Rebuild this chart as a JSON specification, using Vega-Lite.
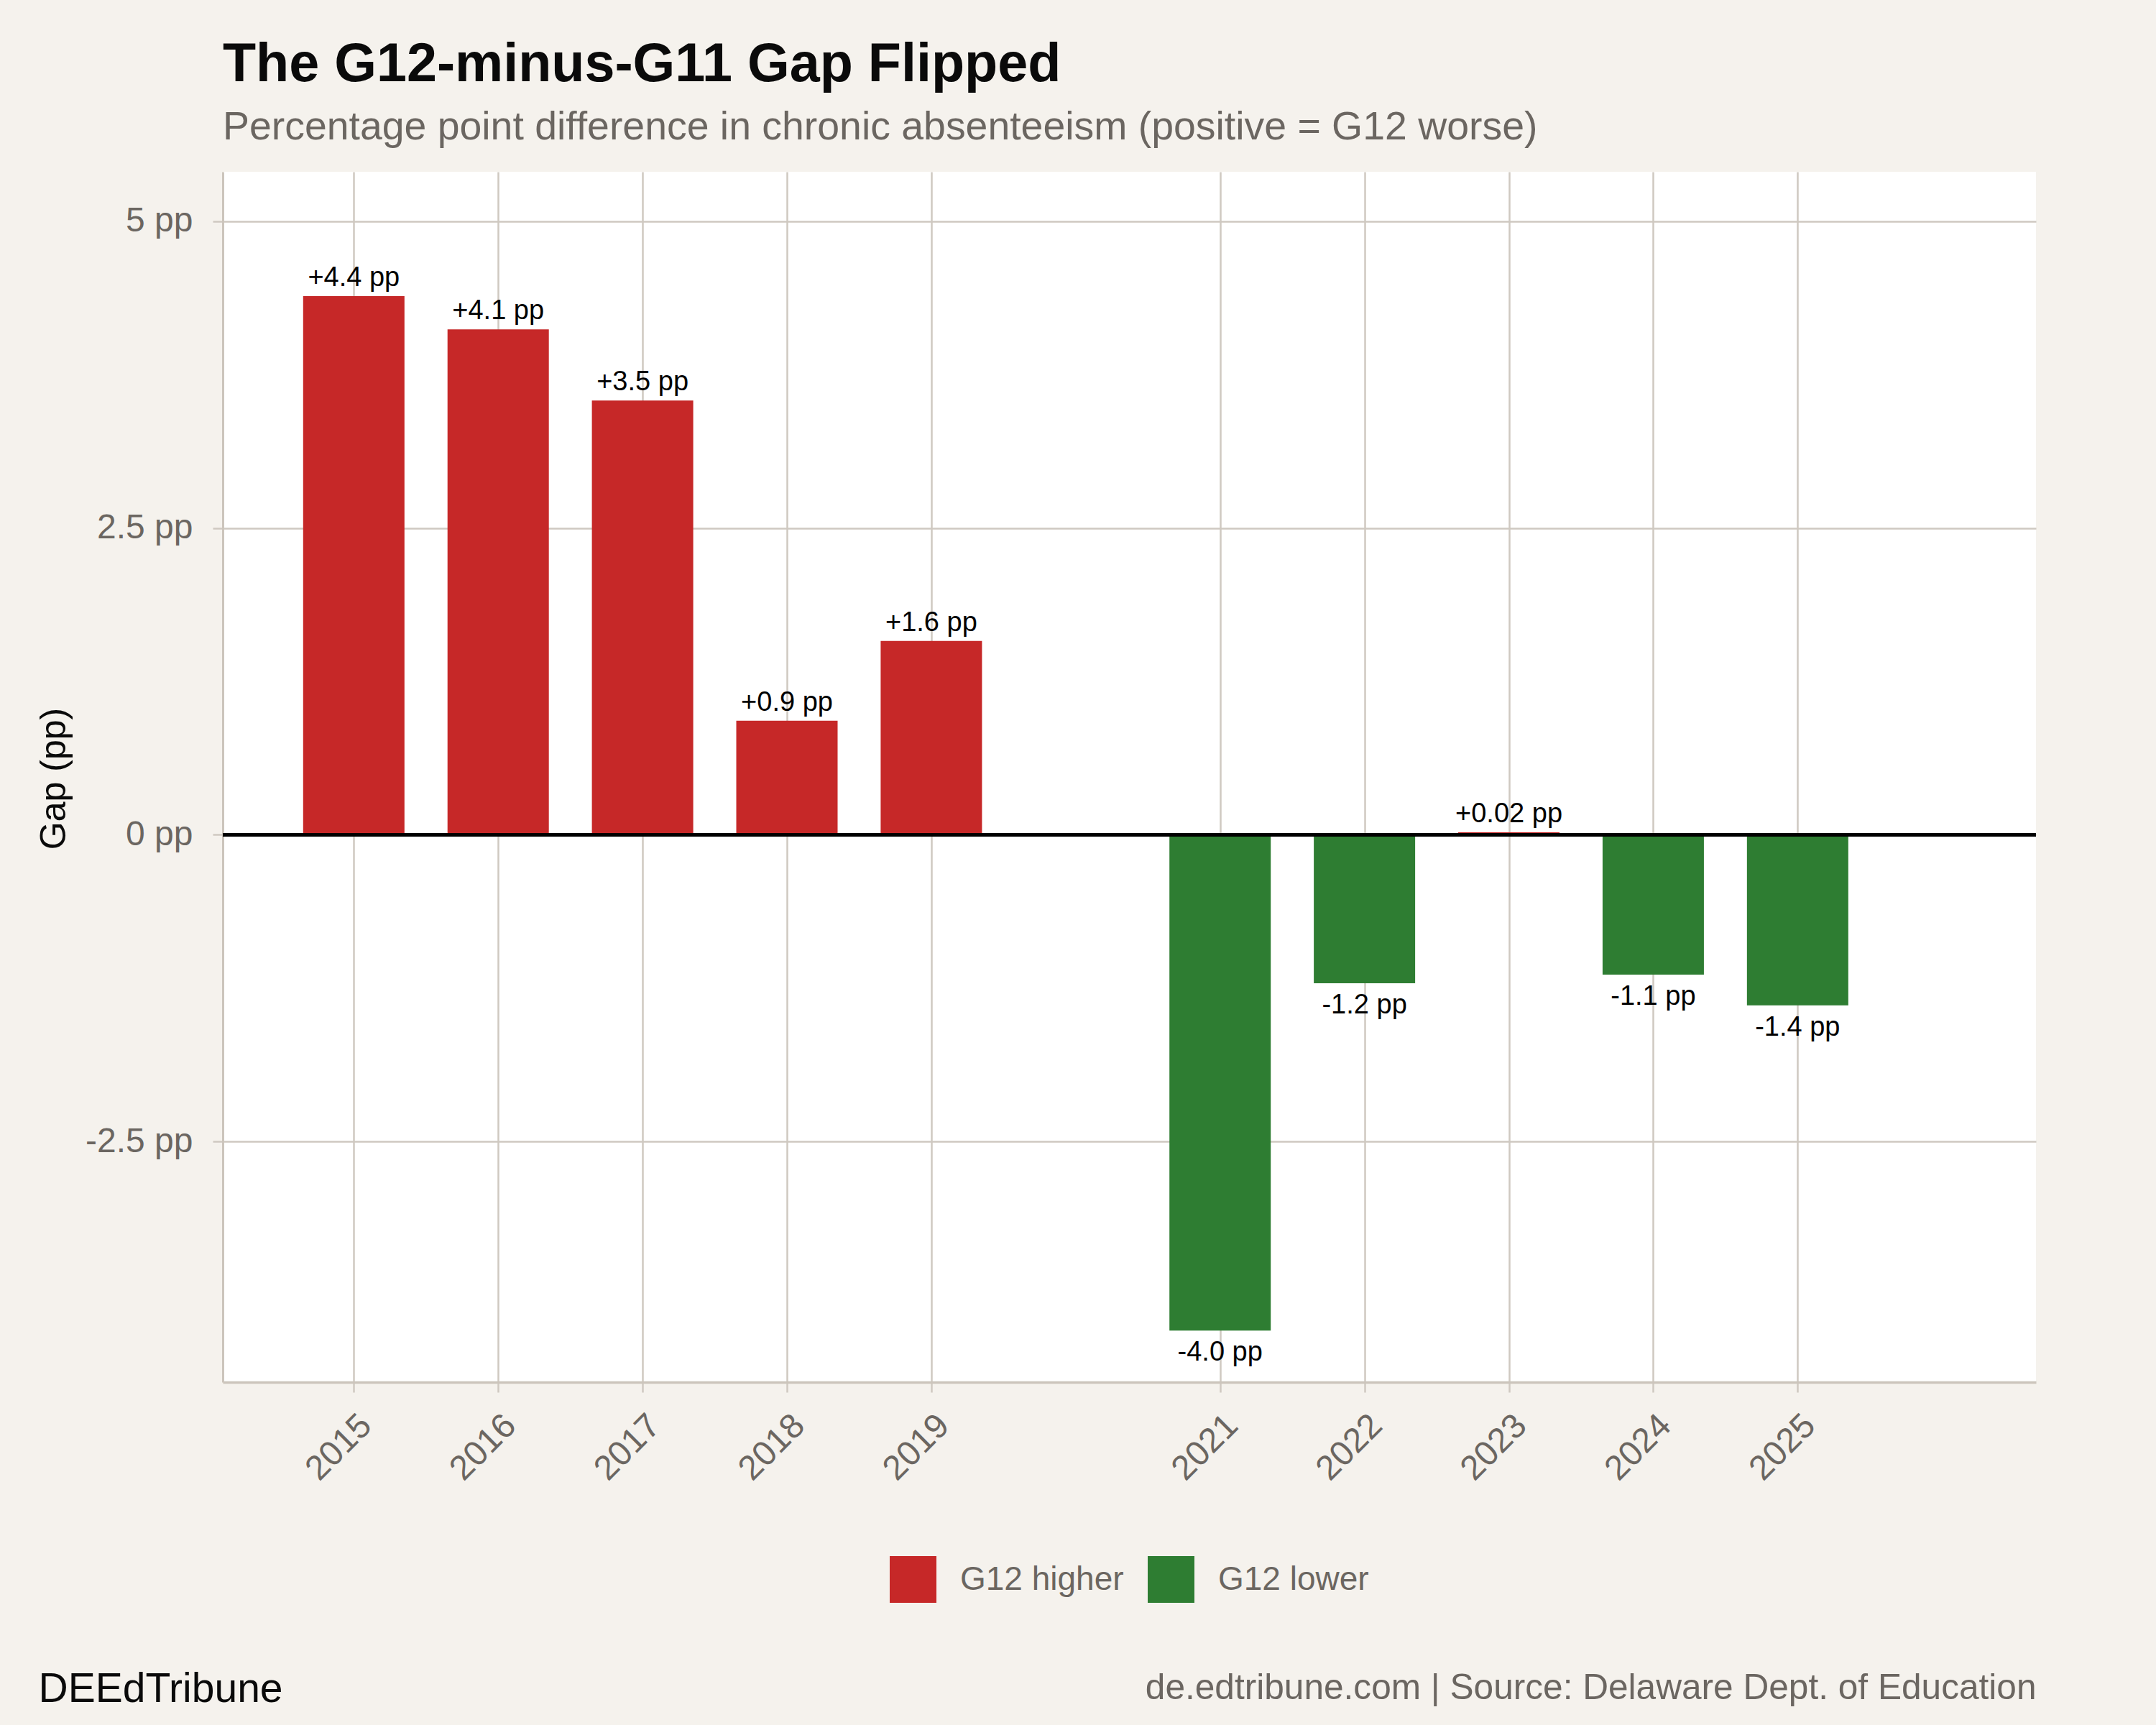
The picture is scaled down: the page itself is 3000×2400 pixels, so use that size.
{
  "$schema": "https://vega.github.io/schema/vega-lite/v6.json",
  "autosize": {"type": "none"},
  "padding": {"left": 310, "top": 239, "right": 167, "bottom": 477},
  "width": 2523,
  "height": 1684,
  "background": "#F5F2ED",
  "config": {
    "font": "Liberation Sans",
    "view": {"fill": "white", "stroke": null}
  },
  "title": {
    "text": "The G12-minus-G11 Gap Flipped",
    "subtitle": "Percentage point difference in chronic absenteeism (positive = G12 worse)",
    "anchor": "start",
    "frame": "group",
    "fontSize": 75.5,
    "fontWeight": "bold",
    "color": "#0A0A0A",
    "subtitleFontSize": 55.4,
    "subtitleColor": "#6B6661",
    "subtitlePadding": 21,
    "offset": 34
  },
  "data": {
    "values": [
      {"year": 2015, "gap": 4.39, "label": "+4.4 pp", "direction": "G12 higher"},
      {"year": 2016, "gap": 4.12, "label": "+4.1 pp", "direction": "G12 higher"},
      {"year": 2017, "gap": 3.54, "label": "+3.5 pp", "direction": "G12 higher"},
      {"year": 2018, "gap": 0.93, "label": "+0.9 pp", "direction": "G12 higher"},
      {"year": 2019, "gap": 1.58, "label": "+1.6 pp", "direction": "G12 higher"},
      {"year": 2021, "gap": -4.04, "label": "-4.0 pp", "direction": "G12 lower"},
      {"year": 2022, "gap": -1.21, "label": "-1.2 pp", "direction": "G12 lower"},
      {"year": 2023, "gap": 0.02, "label": "+0.02 pp", "direction": "G12 higher"},
      {"year": 2024, "gap": -1.14, "label": "-1.1 pp", "direction": "G12 lower"},
      {"year": 2025, "gap": -1.39, "label": "-1.4 pp", "direction": "G12 lower"}
    ]
  },
  "resolve": {"scale": {"y": "independent"}},
  "layer": [
    {
      "encoding": {
        "x": {
          "field": "year",
          "type": "quantitative",
          "scale": {"domain": [2014.1175, 2026.626], "nice": false, "zero": false},
          "axis": {
            "values": [2015, 2016, 2017, 2018, 2019, 2021, 2022, 2023, 2024, 2025],
            "format": "d",
            "labelAngle": -45,
            "labelFontSize": 48,
            "labelColor": "#6B6661",
            "labelPadding": 22,
            "labelFlush": false,
            "labelOverlap": false,
            "grid": true,
            "gridColor": "#CFC9C1",
            "gridWidth": 2.5,
            "tickColor": "#CFC9C1",
            "tickSize": 14,
            "tickWidth": 2.5,
            "domainColor": "#CCC5BC",
            "domainWidth": 3.5,
            "title": "de.edtribune.com | Source: Delaware Dept. of Education",
            "titleFontSize": 49.6,
            "titleFontWeight": "normal",
            "titleColor": "#6B6661",
            "titleX": 2523,
            "titleY": 440,
            "titleAngle": 0,
            "titleAlign": "right",
            "titleBaseline": "alphabetic"
          }
        },
        "y": {
          "field": "gap",
          "type": "quantitative",
          "scale": {"domain": [-4.461, 5.404], "nice": false, "zero": false},
          "axis": {
            "values": [-2.5, 0, 2.5, 5],
            "labelExpr": "datum.value + ' pp'",
            "labelFontSize": 48,
            "labelColor": "#6B6661",
            "labelPadding": 28,
            "labelOverlap": false,
            "grid": true,
            "gridColor": "#CFC9C1",
            "gridWidth": 2.5,
            "tickColor": "#CFC9C1",
            "tickSize": 14,
            "tickWidth": 2.5,
            "domainColor": "#CCC5BC",
            "domainWidth": 3,
            "title": "Gap (pp)",
            "titleFontSize": 50,
            "titleFontWeight": "normal",
            "titleColor": "#0A0A0A",
            "titleX": -220,
            "titleY": 844,
            "titleAngle": 270,
            "titleAlign": "center",
            "titleBaseline": "alphabetic"
          }
        }
      },
      "layer": [
        {
          "mark": {"type": "bar", "width": 141},
          "encoding": {
            "color": {
              "field": "direction",
              "type": "nominal",
              "scale": {"domain": ["G12 higher", "G12 lower"], "range": ["#C62828", "#2E7D32"]},
              "legend": {
                "title": null,
                "orient": "none",
                "legendX": 928,
                "legendY": 1926,
                "direction": "horizontal",
                "symbolType": "square",
                "symbolSize": 4225,
                "symbolStrokeWidth": 0,
                "symbolOpacity": 1,
                "labelFontSize": 46,
                "labelColor": "#6B6661",
                "labelLimit": 1000,
                "labelOffset": 33,
                "columnPadding": 33,
                "padding": 0
              }
            }
          }
        },
        {
          "transform": [{"filter": "datum.gap >= 0"}],
          "mark": {"type": "text", "baseline": "alphabetic", "align": "center", "dy": -14, "fontSize": 38, "color": "#000000"},
          "encoding": {"text": {"field": "label"}}
        },
        {
          "transform": [{"filter": "datum.gap < 0"}],
          "mark": {"type": "text", "baseline": "alphabetic", "align": "center", "dy": 42, "fontSize": 38, "color": "#000000"},
          "encoding": {"text": {"field": "label"}}
        }
      ]
    },
    {
      "mark": {"type": "rule", "color": "#000000", "strokeWidth": 4},
      "encoding": {
        "y": {
          "datum": 0,
          "type": "quantitative",
          "scale": {"domain": [-4.461, 5.404], "nice": false, "zero": false},
          "axis": {
            "orient": "left",
            "labels": false,
            "ticks": false,
            "domain": false,
            "grid": false,
            "title": "DEEdTribune",
            "titleFontSize": 57,
            "titleFontWeight": "normal",
            "titleColor": "#0A0A0A",
            "titleX": -257,
            "titleY": 2128,
            "titleAngle": 0,
            "titleAlign": "left",
            "titleBaseline": "alphabetic"
          }
        }
      }
    }
  ]
}
